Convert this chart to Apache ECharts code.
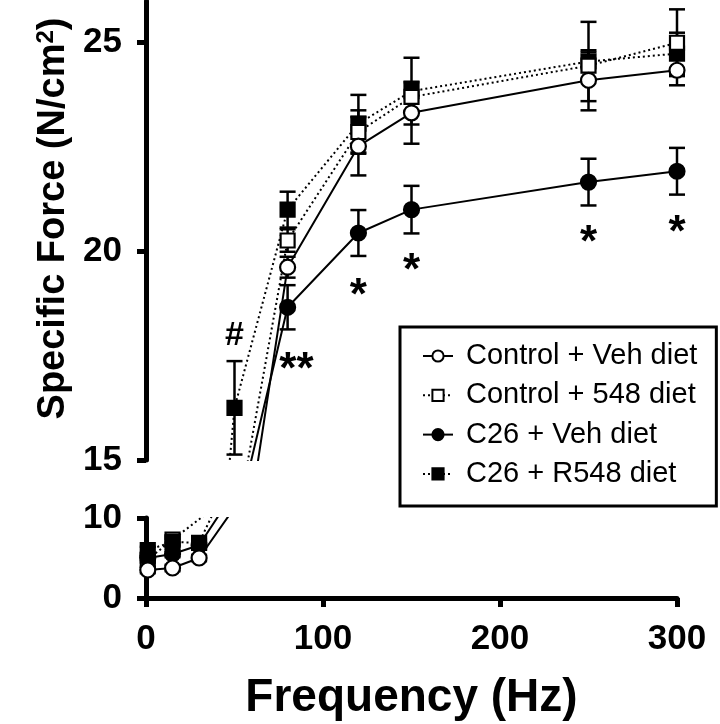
<!DOCTYPE html>
<html>
<head>
<meta charset="utf-8">
<script src="https://cdn.jsdelivr.net/npm/echarts@6/dist/echarts.min.js"></script>
<style>
html, body { margin: 0; padding: 0; background: #fff; }
#chart { width: 720px; height: 724px; }
</style>
</head>
<body>
<div id="chart"></div>
<script>
// frequency (Hz)
var freq = [1, 15, 30, 50, 80, 120, 150, 250, 300];

// specific force (N/cm2), mean and error
var ctrlVeh = [3.5, 3.75, 5.0, 11.3, 19.62, 22.52, 23.32, 24.1, 24.34];
var ctrlVehErr = [0.4, 0.4, 0.4, 0.6, 0.25, 0.7, 0.74, 0.72, 0.36];
var ctrl548 = [4.8, 7.3, null, 13.2, 20.26, 22.86, 23.7, 24.45, 25.0];
var ctrl548Err = [0.4, 0.4, null, 0.8, 0.27, 0.52, 0.36, 0.32, 0.8];
var c26Veh = [5.0, 5.5, 6.6, 13.3, 18.66, 20.44, 21.0, 21.66, 21.92];
var c26VehErr = [0.4, 0.4, 0.4, 0.8, 0.53, 0.55, 0.57, 0.56, 0.56];
var c26R548 = [6.0, 7.0, 6.9, 16.25, 21.0, 23.06, 23.84, 24.55, 24.74];
var c26R548Err = [0.4, 0.4, 0.4, 1.12, 0.43, 0.69, 0.8, 0.95, 0.5];

// significance marks
var annoX = [50, 85, 120, 150, 250, 300];
var annoY = [17.99, 17.35, 19.12, 19.72, 20.39, 20.63];
var annoText = ['#', '**', '*', '*', '*', '*'];

// broken y axis: upper and lower segments
var topRange = [15, 26];
var topTicks = [15, 20, 25];
var botRange = [0, 10];

var names = ['Control + Veh diet', 'Control + 548 diet', 'C26 + Veh diet', 'C26 + R548 diet'];

var font = 'Liberation Sans, Arial, Helvetica, sans-serif';

var groups = {};
groups[names[0]] = { vals: ctrlVeh, errs: ctrlVehErr, symbol: 'circle', filled: false, dotted: false };
groups[names[1]] = { vals: ctrl548, errs: ctrl548Err, symbol: 'rect', filled: false, dotted: true };
groups[names[2]] = { vals: c26Veh, errs: c26VehErr, symbol: 'circle', filled: true, dotted: false };
groups[names[3]] = { vals: c26R548, errs: c26R548Err, symbol: 'rect', filled: true, dotted: true };

function pairs(vals) {
	return freq.map(function(f, i) {
		return [f, vals[i] == null ? '-' : vals[i]];
	});
}

function errData(vals, errs) {
	var out = [];
	for (var i = 0; i < freq.length; i++) {
		if (vals[i] != null) out.push([freq[i], vals[i], errs[i]]);
	}
	return out;
}

function errorBars(range) {
	return function(params, api) {
		var x = api.value(0), y = api.value(1), e = api.value(2);
		if (y < range[0] || y > range[1]) return;
		var hi = Math.min(y + e, range[1]);
		var lo = Math.max(y - e, range[0]);
		var pHi = api.coord([x, hi]);
		var pLo = api.coord([x, lo]);
		var st = { stroke: '#000', lineWidth: 2.5 };
		var kids = [{
			type: 'line',
			shape: { x1: pHi[0], y1: pHi[1], x2: pLo[0], y2: pLo[1] },
			style: st
		}];
		if (y + e <= range[1]) {
			kids.push({ type: 'line', shape: { x1: pHi[0] - 8, y1: pHi[1], x2: pHi[0] + 8, y2: pHi[1] }, style: st });
		}
		if (y - e >= range[0]) {
			kids.push({ type: 'line', shape: { x1: pLo[0] - 8, y1: pLo[1], x2: pLo[0] + 8, y2: pLo[1] }, style: st });
		}
		return { type: 'group', children: kids };
	};
}

function addGroup(series, name, gridIdx, z) {
	var g = groups[name];
	var range = gridIdx === 0 ? topRange : botRange;
	series.push({
		name: name,
		type: 'line',
		xAxisIndex: gridIdx,
		yAxisIndex: gridIdx,
		data: pairs(g.vals),
		connectNulls: true,
		clip: true,
		symbol: g.symbol,
		symbolSize: g.symbol === 'rect' ? 14 : 15,
		showAllSymbol: true,
		z: z,
		lineStyle: { color: '#000', width: 2, type: g.dotted ? [2, 3] : 'solid' },
		itemStyle: { color: g.filled ? '#000' : '#fff', borderColor: '#000', borderWidth: 2.2 },
		emphasis: { disabled: true }
	});
	series.push({
		name: name + ' SEM',
		type: 'custom',
		xAxisIndex: gridIdx,
		yAxisIndex: gridIdx,
		renderItem: errorBars(range),
		data: errData(g.vals, g.errs),
		itemStyle: { color: '#000' },
		z: 1,
		silent: true
	});
}

var series = [];
// upper segment: open symbols drawn on top
[names[3], names[2], names[1], names[0]].forEach(function(n, i) {
	addGroup(series, n, 0, 3 + i);
});
// lower segment
[names[1], names[2], names[3], names[0]].forEach(function(n, i) {
	addGroup(series, n, 1, 3 + i);
});

series.push({
	name: 'marks',
	type: 'scatter',
	xAxisIndex: 0,
	yAxisIndex: 0,
	symbolSize: 0,
	itemStyle: { color: '#000', opacity: 1 },
	silent: true,
	z: 10,
	data: annoX.map(function(x, i) {
		return {
			value: [x, annoY[i]],
			label: {
				show: true,
				position: 'inside',
				formatter: annoText[i],
				color: '#000',
				opacity: 1,
				textBorderWidth: 0,
				fontFamily: font,
				fontWeight: 'bold',
				fontSize: annoText[i] === '#' ? 34 : 44,
				offset: [0, annoText[i] === '#' ? 0 : 9]
			}
		};
	})
});

var axisLine = { show: true, onZero: true, lineStyle: { color: '#000', width: 5 } };
var axisTick = { show: true, length: 9, lineStyle: { color: '#000', width: 5 } };
var axisLabel = { color: '#000', fontFamily: font, fontWeight: 'bold', fontSize: 35, margin: 24 };

var option = {
	animation: false,
	backgroundColor: '#fff',
	grid: [
		{ left: 146, right: 43, top: 1, bottom: 264 },
		{ left: 146, right: 43, top: 518, bottom: 126 }
	],
	legend: {
		data: names,
		orient: 'vertical',
		left: 400,
		top: 327,
		borderColor: '#000',
		borderWidth: 3,
		padding: [14, 19, 17, 22],
		itemGap: 9.3,
		itemWidth: 30,
		itemHeight: 14,
		selectedMode: false,
		textStyle: { color: '#000', fontFamily: font, fontSize: 29, lineHeight: 30, padding: [0, 0, 0, 8] }
	},
	xAxis: [{
		gridIndex: 0,
		type: 'value',
		min: 0,
		max: 300,
		show: false
	}, {
		gridIndex: 1,
		type: 'value',
		min: 0,
		max: 300,
		interval: 100,
		axisLine: axisLine,
		axisTick: axisTick,
		axisLabel: axisLabel,
		splitLine: { show: false },
		name: 'Frequency (Hz)',
		nameLocation: 'middle',
		nameGap: 77,
		nameTextStyle: { color: '#000', fontFamily: font, fontWeight: 'bold', fontSize: 46 }
	}],
	yAxis: [{
		gridIndex: 0,
		type: 'value',
		min: topRange[0],
		max: topRange[1],
		axisLine: axisLine,
		axisTick: { show: true, length: 9, lineStyle: { color: '#000', width: 5 }, customValues: topTicks },
		axisLabel: { color: '#000', fontFamily: font, fontWeight: 'bold', fontSize: 35, margin: 24, customValues: topTicks },
		splitLine: { show: false },
		name: 'Specific Force (N/cm{sup|2})',
		nameLocation: 'middle',
		nameGap: 70,
		nameTextStyle: {
			color: '#000',
			fontFamily: font,
			fontWeight: 'bold',
			fontSize: 38,
			padding: [0, 0, 0, 24],
			rich: {
				sup: { fontFamily: font, fontWeight: 'bold', fontSize: 24, verticalAlign: 'top', color: '#000' }
			}
		}
	}, {
		gridIndex: 1,
		type: 'value',
		min: botRange[0],
		max: botRange[1],
		interval: 10,
		axisLine: axisLine,
		axisTick: axisTick,
		axisLabel: axisLabel,
		splitLine: { show: false }
	}],
	series: series
};

var chart = echarts.init(document.getElementById('chart'));
chart.setOption(option);
</script>
</body>
</html>
